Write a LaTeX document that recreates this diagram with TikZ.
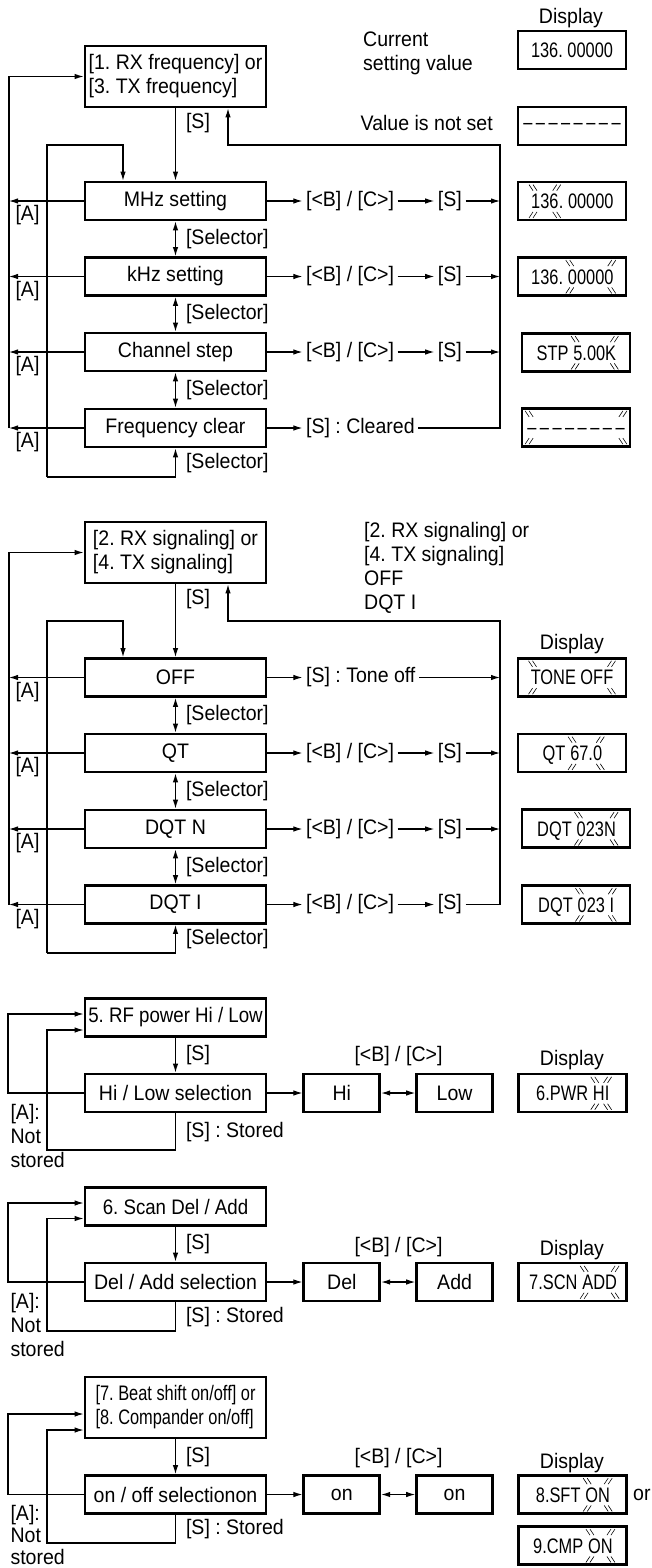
\documentclass[tikz,border=0pt]{standalone}
\usepackage{fontspec}
\setmainfont{Liberation Sans}[FakeStretch=0.93]
\newfontfamily\narrowfont{Liberation Sans}[FakeStretch=0.78]
\newfontfamily\semifont{Liberation Sans}[FakeStretch=0.89]
\usepackage{tikz}
\usetikzlibrary{arrows.meta,positioning,calc}
\frenchspacing

\newcommand{\fsz}{\fontsize{21}{24}\selectfont}
\newcommand{\lcddash}{–\,–\,–\,–\,–\,–\,–\,–}
% blinking marks round a display text
\newcommand{\blink}[1]{%
  \foreach \crn/\sx/\sy in {north west/-1/1,north east/1/1,south west/-1/-1,south east/1/-1}{%
    \draw[blinkline] ([shift={({2*(\sx)*1pt},{9*(\sy)*1pt})}]#1.\crn) -- ([shift={({-2*(\sx)*1pt},{3*(\sy)*1pt})}]#1.\crn);
    \draw[blinkline] ([shift={({-2*(\sx)*1pt},{9*(\sy)*1pt})}]#1.\crn) -- ([shift={({-6*(\sx)*1pt},{3*(\sy)*1pt})}]#1.\crn);
  }}

\begin{document}
\begin{tikzpicture}[
    x=1pt, y=-1pt,
    >={Latex[length=9pt,width=5.5pt]},
    every node/.style={font=\fsz, inner sep=2pt},
    conn/.style={line width=1.1pt},
    stepbox/.style={draw, line width=2.8pt, minimum width=181pt, minimum height=38pt, inner sep=1pt},
    headbox/.style={stepbox, minimum height=61pt, align=left},
    choice/.style={stepbox, minimum width=76pt},
    disp/.style={draw, line width=2.8pt, minimum width=108pt, minimum height=38pt, inner sep=0pt, font=\narrowfont\fsz},
    lcd/.style={inner sep=0pt, font=\narrowfont\fsz, anchor=base west},
    lcdc/.style={inner sep=0pt, font=\narrowfont\fsz},
    lbl/.style={inner sep=3.5pt},
    blinkline/.style={line width=0.6pt}
]
\useasboundingbox (0,0) rectangle (652,1568);

% ---------- RX / TX frequency ----------
\node[headbox] (rxfreq) at (175.5,76.5) {[1. RX frequency] or\\{}[3. TX frequency]};
\node[stepbox] (mhz) at (175.5,201) {MHz setting};
\node[stepbox] (khz) at (175.5,276.5) {kHz setting};
\node[stepbox] (chstep) at (175.5,352) {Channel step};
\node[stepbox] (fclear) at (175.5,428) {Frequency clear};

\coordinate (outerA) at (9,428);
\coordinate (innerA) at (47,477);
\coordinate (innerAtop) at (123,145);
\coordinate (retA) at (500,145);

\draw[conn,->] (rxfreq.south) -- (mhz.north) node[pos=0.2, right=8pt] {[S]};
\draw[conn,<->] (mhz.south) -- (khz.north) node[midway, right=8pt] {[Selector]};
\draw[conn,<->] (khz.south) -- (chstep.north) node[midway, right=8pt] {[Selector]};
\draw[conn,<->] (chstep.south) -- (fclear.north) node[midway, right=8pt] {[Selector]};

% [A] back to the menu
\draw[conn,->] (mhz.west) -- (mhz.west -| outerA) node[below right, xshift=4pt, yshift=-2pt] {[A]};
\draw[conn,->] (khz.west) -- (khz.west -| outerA) node[below right, xshift=4pt, yshift=-2pt] {[A]};
\draw[conn,->] (chstep.west) -- (chstep.west -| outerA) node[below right, xshift=4pt, yshift=-2pt] {[A]};
\draw[conn,->] (fclear.west) -- (fclear.west -| outerA) node[below right, xshift=4pt, yshift=-2pt] {[A]};
\draw[conn,->] (fclear.west -| outerA) |- (rxfreq.west);

% selector loop
\draw[conn,->] (innerA) |- (innerAtop) -- (innerAtop |- mhz.north);
\draw[conn,->] (innerA) -| (fclear.south) node[pos=0.75, right=8pt] {[Selector]};

% key rows
\node[lbl, right=35pt of mhz] (mhzbc) {[<B] / [C>]};
\node[lbl, right=36.5pt of mhzbc] (mhzs) {[S]};
\node[lbl, right=35pt of khz] (khzbc) {[<B] / [C>]};
\node[lbl, right=36.5pt of khzbc] (khzs) {[S]};
\node[lbl, right=35pt of chstep] (chbc) {[<B] / [C>]};
\node[lbl, right=36.5pt of chbc] (chs) {[S]};
\node[lbl, right=35pt of fclear] (cleared) {[S] : Cleared};

\draw[conn,->] (mhz.east) -- (mhzbc.west);
\draw[conn,->] (mhzbc.east) -- (mhzs.west);
\draw[conn,->] (mhzs.east) -- (mhzs.east -| retA);
\draw[conn,->] (khz.east) -- (khzbc.west);
\draw[conn,->] (khzbc.east) -- (khzs.west);
\draw[conn,->] (khzs.east) -- (khzs.east -| retA);
\draw[conn,->] (chstep.east) -- (chbc.west);
\draw[conn,->] (chbc.east) -- (chs.west);
\draw[conn,->] (chs.east) -- (chs.east -| retA);
\draw[conn,->] (fclear.east) -- (cleared.west);
\draw[conn,->] (cleared.east) -| (retA) -| ([xshift=52.5pt]rxfreq.south);

% displays
\node (disptxtA) at (571,18) {Display};
\node[anchor=west, align=left] (curtxt) at (361,53) {Current\\setting value};
\node[anchor=east] (notsettxt) at (495,123) {Value is not set};
\node[disp] (curdisp) at (572,50) {136. 00000};
\node[disp] (notset) at (572,126) {\lcddash};
\node[disp] (mhzdisp) at (572,201) {};
\node[lcd] (mhza) at (531,208.5) {136};
\node[lcd] (mhzb) at (mhza.base east) {. 00000};
\blink{mhza}
\node[disp] (khzdisp) at (572,276.5) {};
\node[lcd] (khza) at (531,284) {136.};
\node[lcd] (khzb) at ([xshift=4.5pt]khza.base east) {00000};
\blink{khzb}
\node[disp] (chdisp) at (576,352.5) {};
\node[lcd] (cha) at (536.4,360) {STP};
\node[lcd] (chb) at ([xshift=4.5pt]cha.base east) {5.00K};
\blink{chb}
\node[disp] (clrdisp) at (576,427.5) {};
\node[lcdc] (clra) at (576,427.5) {\vphantom{0}\lcddash};
\blink{clra}

% ---------- RX / TX signaling ----------
\node[headbox] (rxsig) at (175.5,552.5) {[2. RX signaling] or\\{}[4. TX signaling]};
\node[stepbox] (off) at (175.5,677.5) {OFF};
\node[stepbox] (qt) at (175.5,753) {QT};
\node[stepbox] (dqtn) at (175.5,829) {DQT N};
\node[stepbox] (dqti) at (175.5,904.5) {DQT I};

\coordinate (outerB) at (9,904.5);
\coordinate (innerB) at (47,953);
\coordinate (innerBtop) at (123,621);
\coordinate (retB) at (500,621);

\draw[conn,->] (rxsig.south) -- (off.north) node[pos=0.2, right=8pt] {[S]};
\draw[conn,<->] (off.south) -- (qt.north) node[midway, right=8pt] {[Selector]};
\draw[conn,<->] (qt.south) -- (dqtn.north) node[midway, right=8pt] {[Selector]};
\draw[conn,<->] (dqtn.south) -- (dqti.north) node[midway, right=8pt] {[Selector]};

\draw[conn,->] (off.west) -- (off.west -| outerB) node[below right, xshift=4pt, yshift=-2pt] {[A]};
\draw[conn,->] (qt.west) -- (qt.west -| outerB) node[below right, xshift=4pt, yshift=-2pt] {[A]};
\draw[conn,->] (dqtn.west) -- (dqtn.west -| outerB) node[below right, xshift=4pt, yshift=-2pt] {[A]};
\draw[conn,->] (dqti.west) -- (dqti.west -| outerB) node[below right, xshift=4pt, yshift=-2pt] {[A]};
\draw[conn,->] (outerB) |- (rxsig.west);

\draw[conn,->] (innerB) |- (innerBtop) -- (innerBtop |- off.north);
\draw[conn,->] (innerB) -| (dqti.south) node[pos=0.75, right=8pt] {[Selector]};

\node[lbl, right=35pt of off] (toneoff) {[S] : Tone off};
\node[lbl, right=35pt of qt] (qtbc) {[<B] / [C>]};
\node[lbl, right=36.5pt of qtbc] (qts) {[S]};
\node[lbl, right=35pt of dqtn] (dqtnbc) {[<B] / [C>]};
\node[lbl, right=36.5pt of dqtnbc] (dqtns) {[S]};
\node[lbl, right=35pt of dqti] (dqtibc) {[<B] / [C>]};
\node[lbl, right=36.5pt of dqtibc] (dqtis) {[S]};

\draw[conn,->] (off.east) -- (toneoff.west);
\draw[conn,->] (toneoff.east) -- (toneoff.east -| retB);
\draw[conn,->] (qt.east) -- (qtbc.west);
\draw[conn,->] (qtbc.east) -- (qts.west);
\draw[conn,->] (qts.east) -- (qts.east -| retB);
\draw[conn,->] (dqtn.east) -- (dqtnbc.west);
\draw[conn,->] (dqtnbc.east) -- (dqtns.west);
\draw[conn,->] (dqtns.east) -- (dqtns.east -| retB);
\draw[conn,->] (dqti.east) -- (dqtibc.west);
\draw[conn,->] (dqtibc.east) -- (dqtis.west);
\draw[conn,->] (dqtis.east) -| (retB) -| ([xshift=52.5pt]rxsig.south);

\node[anchor=north west, align=left, inner sep=0pt] (sigtxt) at (364,522) {[2. RX signaling] or\\{}[4. TX signaling]\\OFF\\DQT I};
\node (disptxtB) at (572,644) {Display};
\node[disp] (offdisp) at (572,677.5) {};
\node[lcdc] (offa) at (572,677.5) {TONE OFF};
\blink{offa}
\node[disp] (qtdisp) at (572,753) {};
\node[lcd] (qta) at (542.4,760.5) {QT};
\node[lcd] (qtb) at ([xshift=4.5pt]qta.base east) {67.0};
\blink{qtb}
\node[disp] (dqtndisp) at (576,828.5) {};
\node[lcd] (dqtna) at (537,836) {DQT};
\node[lcd] (dqtnb) at ([xshift=4.5pt]dqtna.base east) {023N};
\blink{dqtnb}
\node[disp] (dqtidisp) at (576,904.5) {};
\node[lcd] (dqtia) at (538,912) {DQT};
\node[lcd] (dqtib) at ([xshift=4.5pt]dqtia.base east) {023 I};
\blink{dqtib}

% ---------- RF power ----------
\node[stepbox, font=\semifont\fsz] (rfpower) at (175.5,1017.5) {5. RF power Hi / Low};
\node[stepbox] (hilow) at (175.5,1093) {Hi / Low selection};
\node[choice, right=35pt of hilow] (hi) {Hi};
\node[choice, right=34pt of hi] (low) {Low};
\coordinate (outerC) at (8,1014);
\coordinate (innerC) at (47,1150);

\draw[conn,->] (rfpower.south) -- (hilow.north) node[midway, right=8pt] {[S]};
\draw[conn,->] (hilow.west) -| node[pos=0.5, below right, align=left, yshift=-9pt] {[A]:\\Not\\stored} (outerC) -- (outerC -| rfpower.west);
\draw[conn,->] (hilow.south) |- node[pos=0.25, right=8pt] {[S] : Stored} (innerC) |- ([yshift=-12.5pt]rfpower.west);
\draw[conn,->] (hilow.east) -- (hi.west);
\draw[conn,<->] (hi.east) -- (low.west);
\node (bcC) at (398.5,1056) {[<B] / [C>]};
\node (disptxtC) at (572,1060) {Display};
\node[disp] (pwrdisp) at (572.5,1093) {};
\node[lcd] (pwra) at (536,1100.5) {6.PWR};
\node[lcd] (pwrb) at ([xshift=4.5pt]pwra.base east) {HI};
\blink{pwrb}

% ---------- Scan Del / Add ----------
\node[stepbox, font=\semifont\fsz] (scan) at (175.5,1206.5) {6. Scan Del / Add};
\node[stepbox] (deladd) at (175.5,1282) {Del / Add selection};
\node[choice, right=35pt of deladd] (del) {Del};
\node[choice, right=34pt of del] (add) {Add};
\coordinate (outerD) at (8,1203);
\coordinate (innerD) at (47,1331);

\draw[conn,->] (scan.south) -- (deladd.north) node[midway, right=8pt] {[S]};
\draw[conn,->] (deladd.west) -| node[pos=0.5, below right, align=left, yshift=-9pt] {[A]:\\Not\\stored} (outerD) -- (outerD -| scan.west);
\draw[conn,->] (deladd.south) |- node[pos=0.25, right=8pt] {[S] : Stored} (innerD) |- ([yshift=-12pt]scan.west);
\draw[conn,->] (deladd.east) -- (del.west);
\draw[conn,<->] (del.east) -- (add.west);
\node (bcD) at (398.5,1247) {[<B] / [C>]};
\node (disptxtD) at (572,1250) {Display};
\node[disp] (scndisp) at (572.5,1282) {};
\node[lcd] (scna) at (529,1289.5) {7.SCN};
\node[lcd] (scnb) at ([xshift=4.5pt]scna.base east) {ADD};
\blink{scnb}

% ---------- Beat shift / Compander ----------
\node[headbox, font=\narrowfont\fsz] (beat) at (175.5,1407.5) {[7. Beat shift on/off] or\\{}[8. Compander on/off]};
\node[stepbox] (onoff) at (175.5,1494.5) {on / off selectionon};
\node[choice, right=35pt of onoff] (onA) {on};
\node[choice, right=34pt of onA] (onB) {on};
\coordinate (outerE) at (8,1414);
\coordinate (innerE) at (47,1543);

\draw[conn,->] (beat.south) -- (onoff.north) node[midway, right=8pt] {[S]};
\draw[conn,->] (onoff.west) -| node[pos=0.5, below right, align=left, yshift=-8.5pt, font=\fontsize{21}{22}\selectfont] {[A]:\\Not\\stored} (outerE) -- (outerE -| beat.west);
\draw[conn,->] (onoff.south) |- node[pos=0.25, right=8pt] {[S] : Stored} (innerE) |- ([yshift=-22.5pt]beat.west);
\draw[conn,->] (onoff.east) -- (onA.west);
\draw[conn,<->] (onA.east) -- (onB.west);
\node (bcE) at (398.5,1458) {[<B] / [C>]};
\node (disptxtE) at (572,1463) {Display};
\node[disp] (sftdisp) at (572.5,1494.5) {};
\node[lcd] (sfta) at (535.7,1502) {8.SFT};
\node[lcd] (sftb) at ([xshift=4.5pt]sfta.base east) {ON};
\blink{sftb}
\node[anchor=west, inner sep=0pt] (ortxt) at (633,1495) {or};
\node[disp] (cmpdisp) at (572.5,1545.5) {};
\node[lcd] (cmpa) at (533,1553) {9.CMP};
\node[lcd] (cmpb) at ([xshift=4.5pt]cmpa.base east) {ON};
\blink{cmpb}

\end{tikzpicture}
\end{document}
